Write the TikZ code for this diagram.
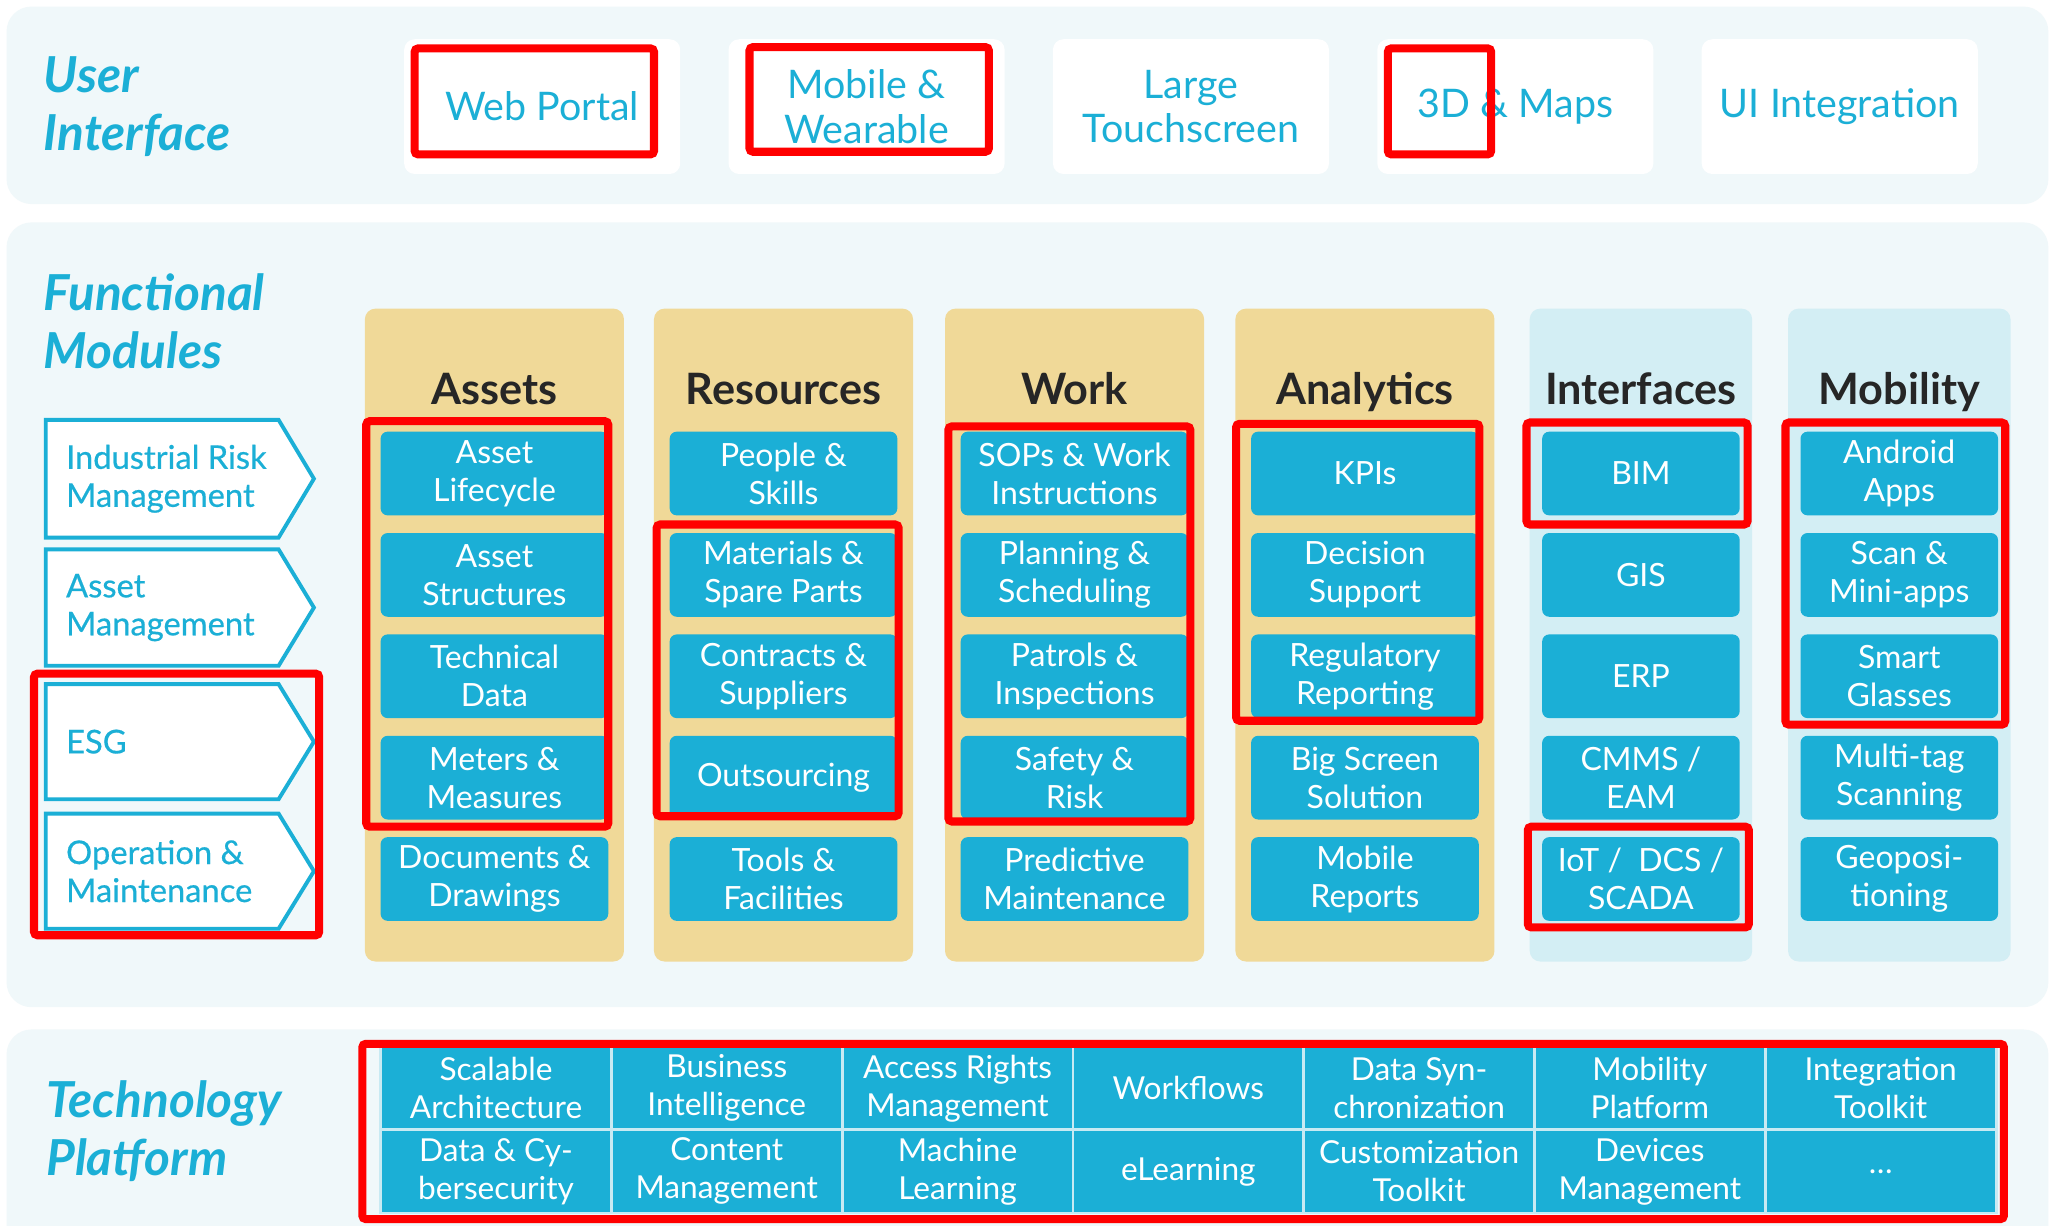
\documentclass[tikz,border=0pt]{standalone}
\usepackage{fontspec}
\setmainfont{Lato}
\newfontfamily\chevfont[FakeBold=0.5]{Lato}

\definecolor{brand}{RGB}{27,175,214}
\definecolor{panelbg}{RGB}{240,248,250}
\definecolor{sand}{RGB}{240,217,152}
\definecolor{paleblue}{RGB}{211,238,244}
\definecolor{headc}{RGB}{38,38,38}
\definecolor{gridc}{RGB}{200,234,243}

\begin{document}
\begin{tikzpicture}[
		x=0.01308cm, y=-0.01308cm,
		panel/.style={fill=panelbg, rounded corners=0.25cm},
		title/.style={anchor=west, align=left, inner sep=0pt, text=brand,
			font=\fontsize{14.1}{16.4}\selectfont\bfseries\itshape},
		uibox/.style={fill=white, rounded corners=3pt, minimum width=2.76cm,
			minimum height=1.347cm, align=center, text=brand,
			font=\fontsize{11.2}{12.6}\selectfont},
		chevron/.style={draw=brand, fill=white, line width=1.1pt},
		chevtext/.style={anchor=west, align=left, inner sep=0pt, text=brand,
			font=\chevfont\fontsize{9.3}{10.8}\selectfont},
		sandcol/.style={fill=sand, rounded corners=3pt, minimum width=2.59cm,
			minimum height=6.527cm},
		bluecol/.style={sandcol, fill=paleblue, minimum width=2.224cm},
		header/.style={anchor=base, inner sep=0pt, text=headc,
			font=\fontsize{12.3}{14}\selectfont\bfseries},
		modbox/.style={fill=brand, rounded corners=2pt, minimum width=2.276cm,
			minimum height=0.837cm, align=center, text=white, inner sep=1pt,
			font=\fontsize{9.1}{10.8}\selectfont},
		slimbox/.style={modbox, minimum width=1.975cm},
		cell/.style={fill=brand, draw=gridc, line width=0.8pt, minimum width=2.308cm,
			minimum height=0.831cm, align=center, text=white, inner sep=1pt,
			font=\fontsize{9.0}{10.8}\selectfont},
		redframe/.style={draw=red, line width=2.3pt, rounded corners=1pt}
	]
	\clip (0,0) rectangle (1568,937);
	\fill[white] (0,0) rectangle (1568,937);

	% the three bands
	\path[panel] (5,5) rectangle (1566,156);
	\path[panel] (5,170) rectangle (1566,770);
	\path[panel] (5,787) rectangle (1566,980);

	\node[title] (uititle) at (33,81.5) {User\\Interface};
	\node[title] (fmtitle) at (33,245.5) {Functional\\Modules};
	\node[title] (tptitle) at (35,865) {Technology\\Platform};

	% user interface
	\foreach \txt/\nm [count=\i from 0] in {Web Portal/web, Mobile \&\\Wearable/mobile,
		Large\\Touchscreen/touch, 3D \& Maps/maps, UI Integration/uiint}
		\node[uibox] (\nm) at ({414.5+248*\i},81.5) {\txt};

	% functional modules
	\foreach \t/\b/\txt [count=\i] in {321/411/{Industrial Risk\\Management},
		420/509/{Asset\\Management}, 523/611/ESG, 622/710/{Operation \&\\Maintenance}}
	{
		\draw[chevron] (35,\t) -- (213,\t) -- (240,{(\t+\b)/2}) -- (213,\b) -- (35,\b) -- cycle;
		\node[chevtext] (mod\i) at (50,{(\t+\b)/2}) {\txt};
	}

	\foreach \cx/\kind/\bx/\nm/\head/\items in {
		378/sandcol/modbox/assets/Assets/{Asset\\Lifecycle, Asset\\Structures, Technical\\Data, Meters \&\\Measures, Documents \&\\Drawings},
		599/sandcol/modbox/resources/Resources/{People \&\\Skills, Materials \&\\Spare Parts, Contracts \&\\Suppliers, Outsourcing, Tools \&\\Facilities},
		821.5/sandcol/modbox/work/Work/{SOPs \& Work\\Instructions, Planning \&\\Scheduling, Patrols \&\\Inspections, Safety \&\\Risk, Predictive\\Maintenance},
		1043.5/sandcol/modbox/analytics/Analytics/{KPIs, Decision\\Support, Regulatory\\Reporting, Big Screen\\Solution, Mobile\\Reports},
		1254.5/bluecol/slimbox/interfaces/Interfaces/{BIM, GIS, ERP, CMMS /\\EAM, IoT / \ DCS /\\SCADA},
		1452/bluecol/slimbox/mobility/Mobility/{Android\\Apps, Scan \&\\Mini-apps, Smart\\Glasses, Multi-tag\\Scanning, Geoposi-\\tioning}}
	{
		\node[\kind] (\nm) at (\cx,485.5) {};
		\node[header] (\nm-head) at (\cx,309) {\head};
		\foreach \txt [count=\k from 0] in \items
			\node[\bx] (\nm-\k) at (\cx,{362+77.5*\k}) {\txt};
	}

	% technology platform
	\foreach \txt [count=\i from 0] in {Scalable\\Architecture, Business\\Intelligence,
		Access Rights\\Management, Workflows, Data Syn-\\chronization, Mobility\\Platform,
		Integration\\Toolkit, Data \& Cy-\\bersecurity, Content\\Management, Machine\\Learning,
		eLearning, Customization\\Toolkit, Devices\\Management, {\ldots}}
	{
		\pgfmathtruncatemacro\cc{mod(\i,7)}
		\pgfmathtruncatemacro\rr{div(\i,7)}
		\node[cell] (tp\i) at ({379.2+176.43*\cc},{832+63.5*\rr}) {\txt};
	}

	% highlighted items
	\draw[redframe] (317,37) rectangle (500,118);
	\draw[redframe] (573,36) rectangle (756,116);
	\draw[redframe] (1061,37) rectangle (1140,118);
	\draw[redframe] (26,515) rectangle (244,715);
	\draw[redframe] (280,322) rectangle (465,632);
	\draw[redframe] (502,401) rectangle (687,624);
	\draw[redframe] (725,326) rectangle (910,628);
	\draw[redframe] (945,324) rectangle (1131,551);
	\draw[redframe] (1167,323) rectangle (1336,401);
	\draw[redframe] (1168,632) rectangle (1337,709);
	\draw[redframe] (1365,323) rectangle (1533,554);
	\draw[redframe] (277,798) rectangle (1532,932);
\end{tikzpicture}
\end{document}
